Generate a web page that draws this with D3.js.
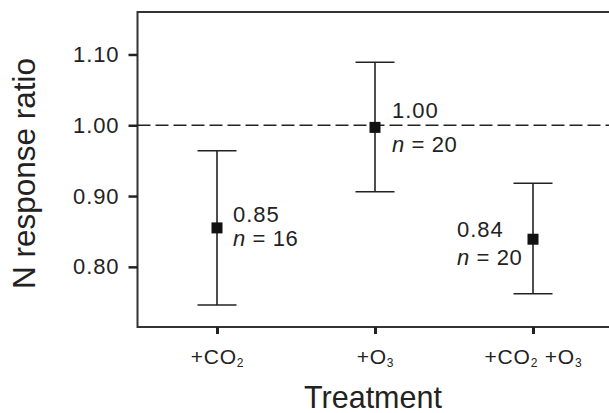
<!DOCTYPE html>
<html>
<head>
<meta charset="utf-8">
<script src="https://cdn.jsdelivr.net/npm/d3@7"></script>
<style>
  body { margin: 0; background: #fff; }
  text { font-family: "Liberation Sans", Arial, Helvetica, sans-serif; fill: #222; }
</style>
</head>
<body>
<script>
// data
const treatments = ["+CO2", "+O3", "+CO2 +O3"];
const tickParts = [["+CO", "2"], ["+O", "3"], ["+CO", "2", " +O", "3"]];
const means = [0.855, 0.997, 0.839];
const lower = [0.746, 0.906, 0.762];
const upper = [0.964, 1.089, 0.918];
const meanLabels = ["0.85", "1.00", "0.84"];
const nValues = [16, 20, 20];
const yTicks = [0.80, 0.90, 1.00, 1.10];

const width = 609, height = 413;
const m = {left: 137.5, top: 12, right: 620, bottom: 327};

// where the two-line labels sit relative to each point
const labelOffsets = [
  {dx: 16, dy1: -6, dy2: 18.5},
  {dx: 17, dy1: -9.5, dy2: 25},
  {dx: -76, dy1: -2, dy2: 25.5}
];

const svg = d3.select("body").append("svg")
  .attr("width", width)
  .attr("height", height);

const x = d3.scalePoint()
  .domain(treatments)
  .range([217, 533]);

const y = d3.scaleLinear()
  .domain([0.715, 1.16])
  .range([m.bottom, m.top]);

// frame (right side is cut off in the original)
svg.append("path")
  .attr("d", `M${m.right},${m.top}H${m.left}V${m.bottom}H${m.right}`)
  .attr("fill", "none")
  .attr("stroke", "#333")
  .attr("stroke-width", 2);

// y axis
const yAxis = svg.append("g")
  .attr("transform", `translate(${m.left},0)`)
  .call(d3.axisLeft(y).tickValues(yTicks).tickFormat(d3.format(".2f")).tickSize(9).tickPadding(9));
yAxis.select(".domain").remove();
yAxis.selectAll(".tick line").attr("stroke", "#222").attr("stroke-width", 2.5);
yAxis.selectAll(".tick text")
  .attr("font-size", 22)
  .attr("letter-spacing", 0.9)
  .attr("fill", "#222")
  .style("font-family", "'Liberation Sans', Arial, sans-serif");

// x axis
const xAxis = svg.append("g")
  .attr("transform", `translate(0,${m.bottom})`)
  .call(d3.axisBottom(x).tickSize(7).tickFormat(""));
xAxis.select(".domain").remove();
xAxis.selectAll(".tick line").attr("stroke", "#222").attr("stroke-width", 3);
xAxis.selectAll(".tick text").remove();
xAxis.selectAll(".tick").each(function(d, i) {
  const t = d3.select(this).append("text")
    .attr("y", 37)
    .attr("text-anchor", "middle")
    .attr("font-size", 21)
    .attr("letter-spacing", 0.8)
    .attr("fill", "#222");
  tickParts[i].forEach((p, j) => {
    const sub = j % 2 === 1;
    t.append("tspan")
      .attr("font-size", sub ? 12 : 21)
      .attr("dy", sub ? 3 : (j > 0 ? -3 : 0))
      .text(p);
  });
});

// reference line at 1
svg.append("line")
  .attr("x1", m.left).attr("x2", m.right)
  .attr("y1", y(1)).attr("y2", y(1))
  .attr("stroke", "#222")
  .attr("stroke-width", 1.6)
  .attr("stroke-dasharray", "13,5");

// error bars
const pts = svg.append("g");
treatments.forEach((t, i) => {
  const g = pts.append("g").attr("stroke", "#222").attr("stroke-width", 1.6);
  g.append("line")
    .attr("x1", x(t)).attr("x2", x(t))
    .attr("y1", y(upper[i])).attr("y2", y(lower[i]));
  [upper[i], lower[i]].forEach(v => {
    g.append("line")
      .attr("x1", x(t) - 19.5).attr("x2", x(t) + 19.5)
      .attr("y1", y(v)).attr("y2", y(v));
  });
  pts.append("rect")
    .attr("x", x(t) - 5.5).attr("y", y(means[i]) - 5.5)
    .attr("width", 11).attr("height", 11)
    .attr("fill", "#111");

  const o = labelOffsets[i];
  pts.append("text")
    .attr("x", x(t) + o.dx).attr("y", y(means[i]) + o.dy1)
    .attr("font-size", 22)
    .attr("letter-spacing", 1)
    .text(meanLabels[i]);
  const nt = pts.append("text")
    .attr("x", x(t) + o.dx).attr("y", y(means[i]) + o.dy2)
    .attr("font-size", 22)
    .attr("letter-spacing", 0.6);
  nt.append("tspan").attr("font-style", "italic").text("n");
  nt.append("tspan").text(" = " + nValues[i]);
});

// axis titles
svg.append("text")
  .attr("transform", `translate(35,${(m.top + m.bottom) / 2 + 4}) rotate(-90)`)
  .attr("text-anchor", "middle")
  .attr("font-size", 31.5)
  .text("N response ratio");

svg.append("text")
  .attr("x", x(treatments[1]) - 2)
  .attr("y", 408)
  .attr("text-anchor", "middle")
  .attr("font-size", 30.5)
  .text("Treatment");
</script>
</body>
</html>
